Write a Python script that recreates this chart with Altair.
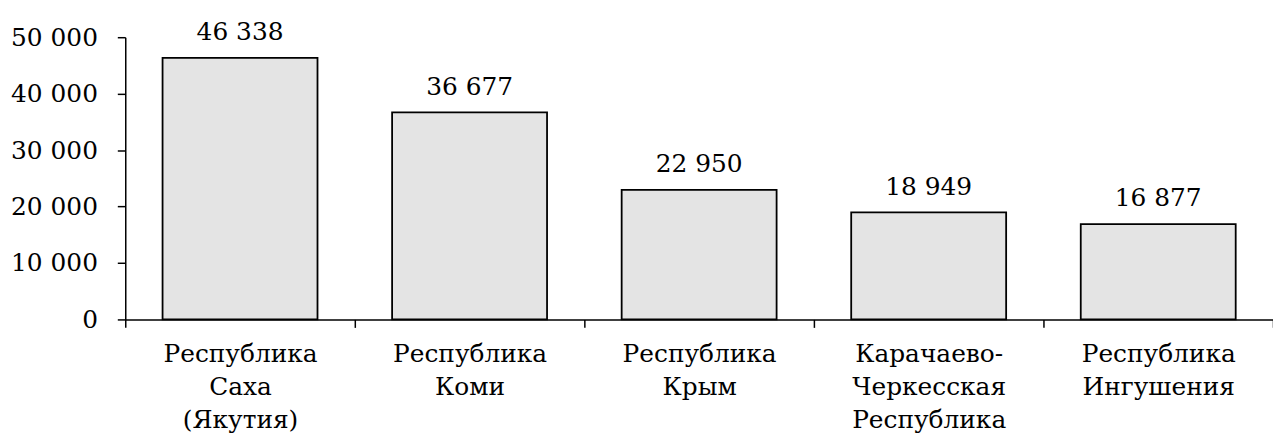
import altair as alt
import pandas as pd

categories = [
    "Республика|Саха|(Якутия)",
    "Республика|Коми",
    "Республика|Крым",
    "Карачаево-|Черкесская|Республика",
    "Республика|Ингушения",
]
values = [46338, 36677, 22950, 18949, 16877]
y_ticks = [0, 10000, 20000, 30000, 40000, 50000]

df = pd.DataFrame({"cat": categories, "value": values})

FONT = "DejaVu Serif"
FS = 25

x = alt.X(
    "cat:N",
    sort=categories,
    title=None,
    scale=alt.Scale(paddingInner=0, paddingOuter=0),
    axis=alt.Axis(
        labelAngle=0,
        labelExpr="split(datum.label, '|')",
        labelFont=FONT,
        labelFontSize=FS,
        labelColor="black",
        labelLineHeight=33.5,
        labelPadding=14,
        labelBaseline="top",
        tickBand="extent",
        tickSize=8,
        tickColor="black",
        tickWidth=1.5,
        domainColor="black",
        domainWidth=1.5,
        labelLimit=400,
    ),
)
y = alt.Y(
    "value:Q",
    title=None,
    scale=alt.Scale(domain=[0, 50000], nice=False),
    axis=alt.Axis(
        values=y_ticks,
        format=",d",
        grid=False,
        labelFont=FONT,
        labelFontSize=FS,
        labelColor="black",
        labelPadding=20,
        tickSize=8,
        tickColor="black",
        tickWidth=1.5,
        domainColor="black",
        domainWidth=1.5,
    ),
)

bars = alt.Chart(df).mark_bar(
    width={"band": 0.675},
    fill="#e4e4e4",
    stroke="black",
    strokeWidth=1.8,
).encode(x=x, y=y)

labels = alt.Chart(df).mark_text(
    font=FONT,
    fontSize=FS,
    color="black",
    baseline="alphabetic",
    dy=-18,
).encode(
    x=alt.X("cat:N", sort=categories),
    y=alt.Y("value:Q"),
    text=alt.Text("value:Q", format=",d"),
)

chart = (
    alt.layer(bars, labels)
    .properties(
        width=1155,
        height=284,
        autosize=alt.AutoSizeParams(type="none"),
        padding={"left": 118, "top": 28, "right": 0, "bottom": 130},
    )
    .configure(
        font=FONT,
        locale={
            "number": {
                "decimal": ",",
                "thousands": "\u00a0",
                "grouping": [3],
                "currency": ["", " руб."],
            }
        },
    )
    .configure_view(stroke=None)
)

chart.save("out.html", embed_options={"renderer": "svg", "actions": False})
